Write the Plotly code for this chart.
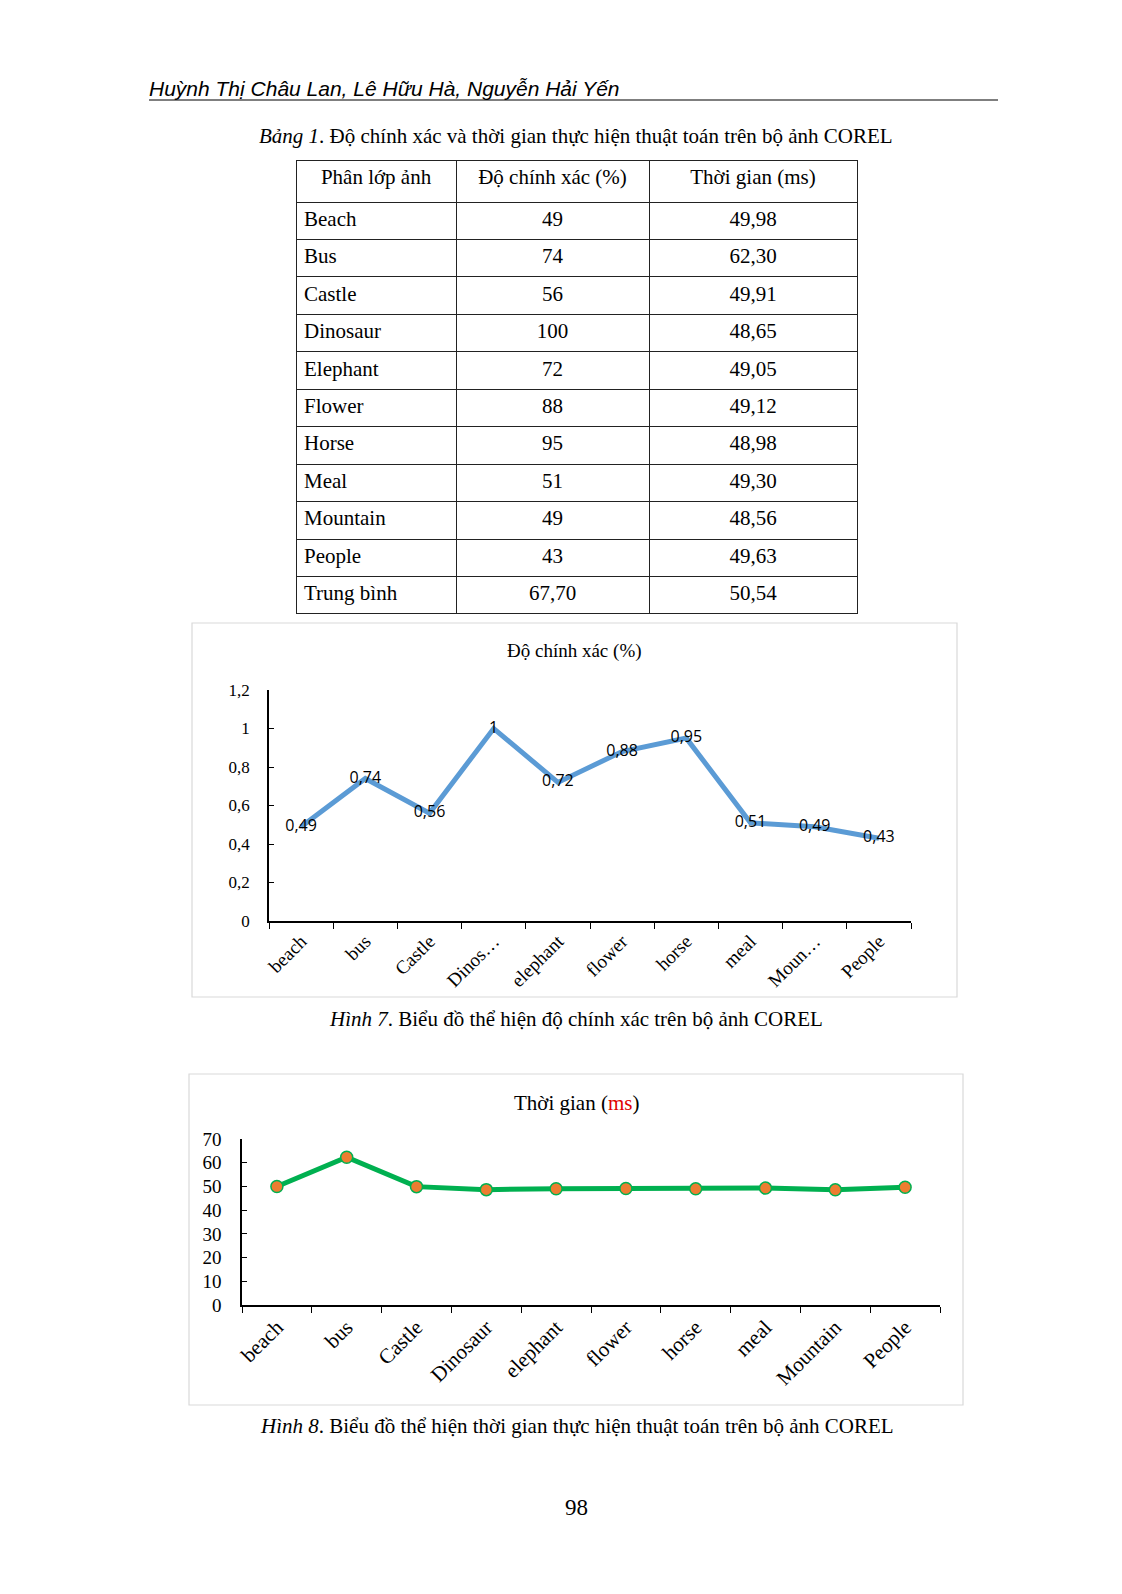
import plotly.graph_objects as go

W, H = 1122, 1594

# ---------------- data ----------------
table_classes = ["Beach", "Bus", "Castle", "Dinosaur", "Elephant", "Flower", "Horse",
                 "Meal", "Mountain", "People", "Trung bình"]
table_acc = ["49", "74", "56", "100", "72", "88", "95", "51", "49", "43", "67,70"]
table_time = ["49,98", "62,30", "49,91", "48,65", "49,05", "49,12", "48,98",
              "49,30", "48,56", "49,63", "50,54"]
table_header = ["Phân lớp ảnh", "Độ chính xác (%)", "Thời gian (ms)"]

categories = ["beach", "bus", "Castle", "Dinosaur", "elephant", "flower", "horse",
              "meal", "Mountain", "People"]
acc_ticktext = ["beach", "bus", "Castle", "Dinos…", "elephant", "flower", "horse",
                "meal", "Moun…", "People"]
accuracy = [0.49, 0.74, 0.56, 1, 0.72, 0.88, 0.95, 0.51, 0.49, 0.43]
time_ms = [49.98, 62.30, 49.91, 48.65, 49.05, 49.12, 48.98, 49.30, 48.56, 49.63]
acc_labels = [("%g" % v).replace(".", ",") for v in accuracy]

SERIF = "Liberation Serif, Times New Roman, serif"
SANS = "Liberation Sans, Arial, sans-serif"


def px(x):
    return x / W


def py(y):
    return 1 - y / H


fig = go.Figure()

# ---------------- table ----------------
fig.add_trace(go.Table(
    domain=dict(x=[px(296), px(857)], y=[py(618), py(160)]),
    columnwidth=[160, 193, 208],
    header=dict(values=table_header, height=42,
                align=["center", "center", "center"],
                font=dict(family=SERIF, size=21, color="black"),
                fill_color="white", line=dict(color="#222", width=1)),
    cells=dict(values=[table_classes, table_acc, table_time], height=37.45,
               align=["left", "center", "center"],
               font=dict(family=SERIF, size=21, color="black"),
               fill_color="white", line=dict(color="#222", width=1)),
))

# ---------------- chart 1 ----------------
fig.add_trace(go.Scatter(
    x=categories, y=accuracy, mode="lines+text", text=acc_labels,
    textposition="middle center",
    textfont=dict(family="Open Sans, sans-serif", size=16, color="black"),
    line=dict(color="#5B9BD5", width=5), xaxis="x", yaxis="y",
    showlegend=False, cliponaxis=False))

# ---------------- chart 2 ----------------
fig.add_trace(go.Scatter(
    x=categories, y=time_ms, mode="lines+markers",
    line=dict(color="#00B050", width=5),
    marker=dict(size=12, color="#ED7D31", line=dict(color="#00B050", width=1.5)),
    xaxis="x2", yaxis="y2", showlegend=False, cliponaxis=False))

axis_common = dict(showgrid=False, zeroline=False, showline=True, automargin=False,
                   linecolor="black", linewidth=1.5, tickcolor="black")

fig.update_layout(
    width=W, height=H, autosize=False,
    margin=dict(l=0, r=0, t=0, b=0, pad=0, autoexpand=False),
    paper_bgcolor="white", plot_bgcolor="white", separators=", ",
    xaxis=dict(domain=[px(269), px(911)], anchor="y", type="category",
               range=[-0.5, 9.5], tickvals=categories, ticktext=acc_ticktext,
               tickson="boundaries", ticks="outside", ticklen=6, tickangle=-45,
               tickfont=dict(family=SERIF, size=19, color="black"), **axis_common),
    yaxis=dict(domain=[py(921), py(690)], anchor="x", range=[0, 1.2], dtick=0.2,
               ticks="inside", ticklen=5, ticklabelstandoff=14,
               tickfont=dict(family=SERIF, size=17, color="black"), **axis_common),
    xaxis2=dict(domain=[px(242), px(940)], anchor="y2", type="category",
                range=[-0.5, 9.5], tickson="boundaries", ticks="outside", ticklen=6,
                tickangle=-45, tickfont=dict(family=SERIF, size=21, color="black"),
                **axis_common),
    yaxis2=dict(domain=[py(1305), py(1139)], anchor="x2", range=[0, 70], dtick=10,
                ticks="inside", ticklen=5, ticklabelstandoff=15,
                tickfont=dict(family=SERIF, size=19, color="black"), **axis_common),
)

# ---------------- page decorations ----------------
shapes = [
    dict(type="line", xref="paper", yref="paper", x0=px(149), x1=px(998),
         y0=py(100), y1=py(100), line=dict(color="black", width=1.2)),
    dict(type="rect", xref="paper", yref="paper", x0=px(192), x1=px(957),
         y0=py(997), y1=py(623), line=dict(color="#D9D9D9", width=1.2)),
    dict(type="rect", xref="paper", yref="paper", x0=px(189), x1=px(963),
         y0=py(1405), y1=py(1074), line=dict(color="#D9D9D9", width=1.2)),
]
fig.update_layout(shapes=shapes)


def ann(text, x, y, size, family=SERIF, xanchor="center", color="black"):
    fig.add_annotation(text=text, x=px(x), y=py(y), xref="paper", yref="paper",
                       xanchor=xanchor, yanchor="middle", showarrow=False,
                       font=dict(family=family, size=size, color=color))


ann("<i>Huỳnh Thị Châu Lan, Lê Hữu Hà, Nguyễn Hải Yến</i>", 147, 88, 21,
    family=SANS, xanchor="left")
ann("<i>Bảng 1</i>. Độ chính xác và thời gian thực hiện thuật toán trên bộ ảnh COREL",
    576, 136, 21)
ann("Độ chính xác (%)", 574, 651, 19)
ann("<i>Hình 7</i>. Biểu đồ thể hiện độ chính xác trên bộ ảnh COREL", 576, 1019, 21)
ann("Thời gian (<span style='color:#E00000'>ms</span>)", 576, 1103, 21)
ann("<i>Hình 8</i>. Biểu đồ thể hiện thời gian thực hiện thuật toán trên bộ ảnh COREL",
    577, 1426, 21)
ann("98", 576, 1507, 23)

fig.write_html(
    "out.html",
    config={"displayModeBar": False},
    post_script="document.body.style.margin='0';document.body.style.overflow='hidden';",
)
